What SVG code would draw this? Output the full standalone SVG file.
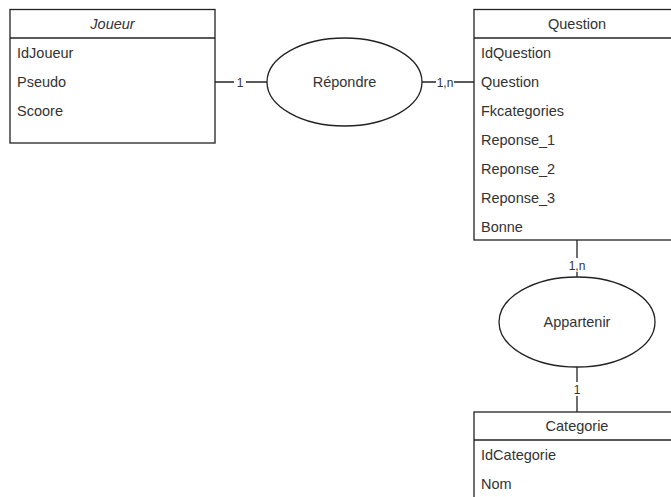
<svg xmlns="http://www.w3.org/2000/svg" width="671" height="497" viewBox="0 0 671 497">
<style>
text{font-family:"Liberation Sans",Arial,sans-serif;font-size:14.5px;fill:#333}
.c{text-anchor:middle}
.box{fill:#fff;stroke:#222;stroke-width:1.3}
.ln{stroke:#222;stroke-width:1.3;fill:none}
.lbl{font-size:12px;fill:#333;text-anchor:middle}
</style>
<rect width="671" height="497" fill="#fff"/>
<g id="connectors">
<line class="ln" x1="215" y1="82" x2="267" y2="82"/>
<rect x="234" y="75" width="12" height="14" fill="#fff"/>
<text class="lbl" x="240" y="86.5">1</text>
<line class="ln" x1="422" y1="82" x2="474" y2="82"/>
<rect x="436" y="75" width="18" height="14" fill="#fff"/>
<text class="lbl" x="445" y="86.5">1,n</text>
<line class="ln" x1="577" y1="240" x2="577" y2="277"/>
<rect x="567" y="258" width="20" height="14" fill="#fff"/>
<text class="lbl" x="577" y="269.5">1,n</text>
<line class="ln" x1="577" y1="367" x2="577" y2="412"/>
<rect x="572" y="382" width="10" height="14" fill="#fff"/>
<text class="lbl" x="577" y="393.5">1</text>
</g>
<g id="joueur">
<rect class="box" x="10" y="9.5" width="205" height="133.5"/>
<line class="ln" x1="10" y1="38" x2="215" y2="38"/>
<text class="c" x="112.5" y="29" font-style="italic">Joueur</text>
<text x="17" y="58">IdJoueur</text>
<text x="17" y="87">Pseudo</text>
<text x="17" y="116">Scoore</text>
</g>
<g id="repondre">
<ellipse class="box" cx="344.5" cy="82" rx="77.5" ry="44"/>
<text class="c" x="344.5" y="87">Répondre</text>
</g>
<g id="question">
<rect class="box" x="474" y="9.5" width="206" height="230.5"/>
<line class="ln" x1="474" y1="38" x2="680" y2="38"/>
<text class="c" x="577" y="29">Question</text>
<text x="481" y="58">IdQuestion</text>
<text x="481" y="87">Question</text>
<text x="481" y="116">Fkcategories</text>
<text x="481" y="145">Reponse_1</text>
<text x="481" y="174">Reponse_2</text>
<text x="481" y="203">Reponse_3</text>
<text x="481" y="232">Bonne</text>
</g>
<g id="appartenir">
<ellipse class="box" cx="577" cy="322" rx="78" ry="45"/>
<text class="c" x="577" y="327">Appartenir</text>
</g>
<g id="categorie">
<rect class="box" x="474" y="412" width="206" height="100"/>
<line class="ln" x1="474" y1="440" x2="680" y2="440"/>
<text class="c" x="577" y="431">Categorie</text>
<text x="481" y="460">IdCategorie</text>
<text x="481" y="489">Nom</text>
</g>
</svg>
